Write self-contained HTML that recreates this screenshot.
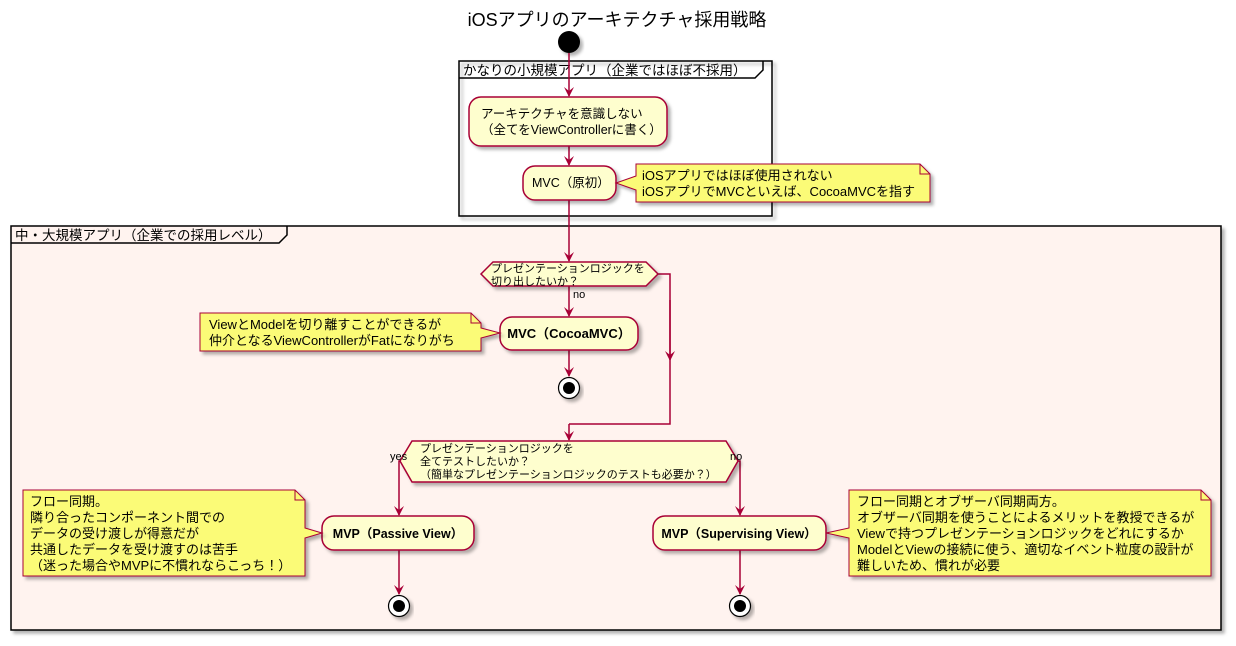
<!DOCTYPE html>
<html><head><meta charset="utf-8"><style>
html,body{margin:0;padding:0;background:#fff;}
svg{display:block;font-family:"Liberation Sans","Noto Sans CJK JP",sans-serif;}
</style></head><body>
<svg width="1236" height="646" viewBox="0 0 1236 646" xmlns="http://www.w3.org/2000/svg">
<defs>
<filter id="sh" x="-10%" y="-10%" width="130%" height="140%"><feDropShadow dx="3" dy="3" stdDeviation="1.5" flood-color="#000" flood-opacity="0.3"/></filter>
<marker id="ar" viewBox="0 0 10 10" refX="9" refY="5" markerWidth="10" markerHeight="10" orient="auto" markerUnits="userSpaceOnUse"><path d="M0,0 L10,5 L0,10 L4,5 Z" fill="#A80036"/></marker>
</defs>
<text x="617" y="26" font-size="18" text-anchor="middle" fill="#000">iOSアプリのアーキテクチャ採用戦略</text>
<circle cx="569" cy="42" r="11" fill="#000" filter="url(#sh)"/>

<!-- frame 1 -->
<rect x="459" y="61" width="313" height="155" fill="none" stroke="#000" stroke-width="1.5" filter="url(#sh)"/>
<path d="M459,78 L755,78 L763,70 L763,61" fill="none" stroke="#000" stroke-width="1.5"/>
<text x="463" y="75" font-size="13.5">かなりの小規模アプリ（企業ではほぼ不採用）</text>

<!-- frame 2 -->
<rect x="11" y="226" width="1210" height="404" fill="#FFF3EF" stroke="#000" stroke-width="1.5" filter="url(#sh)"/>
<path d="M11,243 L279,243 L287,235 L287,226" fill="none" stroke="#000" stroke-width="1.5"/>
<text x="15" y="240" font-size="13.5">中・大規模アプリ（企業での採用レベル）</text>

<g stroke="#A80036" stroke-width="1.5" fill="none">
<line x1="569" y1="53" x2="569" y2="96" marker-end="url(#ar)"/>
<line x1="569" y1="146" x2="569" y2="165" marker-end="url(#ar)"/>
<line x1="569" y1="200" x2="569" y2="261" marker-end="url(#ar)"/>
<line x1="569" y1="286" x2="569" y2="316" marker-end="url(#ar)"/>
<line x1="569" y1="350" x2="569" y2="376" marker-end="url(#ar)"/>
<polyline points="658,274 670,274 670,424 569,424"/>
<line x1="670" y1="300" x2="670" y2="360" marker-end="url(#ar)"/>
<line x1="569" y1="424" x2="569" y2="440" marker-end="url(#ar)"/>
<polyline points="400,461 399,461 399,515" marker-end="url(#ar)"/>
<polyline points="738,461 740,461 740,515" marker-end="url(#ar)"/>
<line x1="399" y1="550" x2="399" y2="594" marker-end="url(#ar)"/>
<line x1="740" y1="550" x2="740" y2="594" marker-end="url(#ar)"/>
</g>

<rect x="469" y="97" width="198" height="49" rx="12" fill="#FEFECE" stroke="#A80036" stroke-width="1.5" filter="url(#sh)"/>
<text x="481" y="118" font-size="12.5">アーキテクチャを意識しない</text>
<text x="481" y="134" font-size="12.5">（全てをViewControllerに書く）</text>
<rect x="523" y="166" width="93" height="34" rx="12" fill="#FEFECE" stroke="#A80036" stroke-width="1.5" filter="url(#sh)"/>
<text x="532" y="187" font-size="12.5">MVC（原初）</text>

<path d="M636,164 L920,164 L930,174 L930,202 L636,202 L636,190 L616,183 L636,176 Z" fill="#FBFB77" stroke="#A80036" stroke-width="1" filter="url(#sh)"/>
<path d="M920,164 L920,174 L930,174" fill="none" stroke="#A80036" stroke-width="1"/>
<text x="642" y="180" font-size="13">iOSアプリではほぼ使用されない</text>
<text x="642" y="196" font-size="13">iOSアプリでMVCといえば、CocoaMVCを指す</text>

<path d="M493,262 L646,262 L658,274 L646,286 L493,286 L481,274 Z" fill="#FEFECE" stroke="#A80036" stroke-width="1.5" filter="url(#sh)"/>
<text x="491" y="272" font-size="11">プレゼンテーションロジックを</text>
<text x="491" y="285" font-size="11">切り出したいか？</text>
<text x="573" y="298" font-size="11">no</text>

<rect x="500" y="317" width="138" height="33" rx="12" fill="#FEFECE" stroke="#A80036" stroke-width="1.5" filter="url(#sh)"/>
<text x="569" y="338" font-size="13" font-weight="bold" text-anchor="middle">MVC（CocoaMVC）</text>

<path d="M200,313 L471,313 L481,323 L481,328 L500,333 L481,338 L481,351 L200,351 Z" fill="#FBFB77" stroke="#A80036" stroke-width="1" filter="url(#sh)"/>
<path d="M471,313 L471,323 L481,323" fill="none" stroke="#A80036" stroke-width="1"/>
<text x="209" y="329" font-size="13">ViewとModelを切り離すことができるが</text>
<text x="209" y="345" font-size="13">仲介となるViewControllerがFatになりがち</text>

<circle cx="569" cy="388" r="10.5" fill="#fff" stroke="#000" stroke-width="1.2" filter="url(#sh)"/>
<circle cx="569" cy="388" r="6" fill="#000"/>

<path d="M412,441 L726,441 L738,461 L726,482 L412,482 L400,461 Z" fill="#FEFECE" stroke="#A80036" stroke-width="1.5" filter="url(#sh)"/>
<text x="420" y="452" font-size="11">プレゼンテーションロジックを</text>
<text x="420" y="465" font-size="11">全てテストしたいか？</text>
<text x="420" y="478" font-size="11">（簡単なプレゼンテーションロジックのテストも必要か？）</text>
<text x="390" y="460" font-size="11">yes</text>
<text x="730" y="460" font-size="11">no</text>

<rect x="322" y="516" width="152" height="34" rx="12" fill="#FEFECE" stroke="#A80036" stroke-width="1.5" filter="url(#sh)"/>
<text x="398" y="538" font-size="12.5" font-weight="bold" text-anchor="middle">MVP（Passive View）</text>
<rect x="653" y="516" width="173" height="34" rx="12" fill="#FEFECE" stroke="#A80036" stroke-width="1.5" filter="url(#sh)"/>
<text x="739" y="538" font-size="12.5" font-weight="bold" text-anchor="middle">MVP（Supervising View）</text>

<path d="M23,490 L295,490 L305,500 L305,528 L322,533 L305,538 L305,576 L23,576 Z" fill="#FBFB77" stroke="#A80036" stroke-width="1" filter="url(#sh)"/>
<path d="M295,490 L295,500 L305,500" fill="none" stroke="#A80036" stroke-width="1"/>
<text x="30" y="506" font-size="13">フロー同期。</text>
<text x="30" y="522" font-size="13">隣り合ったコンポーネント間での</text>
<text x="30" y="538" font-size="13">データの受け渡しが得意だが</text>
<text x="30" y="554" font-size="13">共通したデータを受け渡すのは苦手</text>
<text x="30" y="570" font-size="13">（迷った場合やMVPに不慣れならこっち！）</text>

<path d="M849,490 L1201,490 L1211,500 L1211,576 L849,576 L849,538 L826,533 L849,528 Z" fill="#FBFB77" stroke="#A80036" stroke-width="1" filter="url(#sh)"/>
<path d="M1201,490 L1201,500 L1211,500" fill="none" stroke="#A80036" stroke-width="1"/>
<text x="857" y="506" font-size="13">フロー同期とオブザーバ同期両方。</text>
<text x="857" y="522" font-size="13">オブザーバ同期を使うことによるメリットを教授できるが</text>
<text x="857" y="538" font-size="13">Viewで持つプレゼンテーションロジックをどれにするか</text>
<text x="857" y="554" font-size="13">ModelとViewの接続に使う、適切なイベント粒度の設計が</text>
<text x="857" y="570" font-size="13">難しいため、慣れが必要</text>

<circle cx="399" cy="606" r="10.5" fill="#fff" stroke="#000" stroke-width="1.2" filter="url(#sh)"/>
<circle cx="399" cy="606" r="6" fill="#000"/>
<circle cx="740" cy="606" r="10.5" fill="#fff" stroke="#000" stroke-width="1.2" filter="url(#sh)"/>
<circle cx="740" cy="606" r="6" fill="#000"/>
</svg>
</body></html>
